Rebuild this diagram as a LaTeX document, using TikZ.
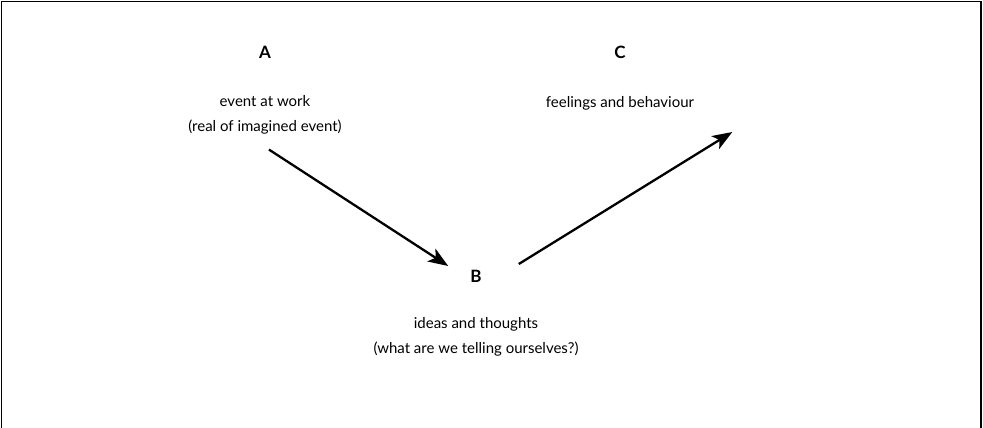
\documentclass[tikz,border=0pt]{standalone}
\usepackage{fontspec}
\setmainfont{Lato}
\usepackage{tikz}
\usetikzlibrary{arrows.meta,positioning,calc}

\begin{document}
\begin{tikzpicture}[
    x=1pt, y=-1pt,
    letter/.style={font=\fontsize{17}{19}\selectfont\bfseries, inner sep=0pt},
    txt/.style={font=\fontsize{15}{25}\selectfont, align=center, inner sep=0pt},
    arr/.style={-{Stealth[length=20pt,width=15pt,inset=5pt]}, line width=2.3pt},
    frame/.style={line width=1.4pt}
]
    \useasboundingbox (0,0) rectangle (983,428);

    % Frame, open at the bottom
    \draw[frame] (1.5,428) -- (1.5,1.5) -- (981,1.5) -- (981,428);

    % A: the event
    \node[letter] (A) at (265,52) {A};
    \node[txt] (evA) at (265,115) {event at work\\(real of imagined event)};

    % B: the thoughts
    \node[letter] (B) at (476,276) {B};
    \node[txt] (evB) at (476,337) {ideas and thoughts\\(what are we telling ourselves?)};

    % C: the outcome
    \node[letter] (C) at (620,52) {C};
    \node[txt] (evC) at (620,103) {feelings and behaviour};

    % Arrows
    \coordinate (a1s) at ($(evA.south)+(4,15)$);
    \coordinate (a1e) at ($(B.west)+(-22,-10)$);
    \coordinate (a2s) at ($(B.east)+(37,-12)$);
    \coordinate (a2e) at ($(evC.east)+(38,29)$);
    \draw[arr] (a1s) -- (a1e);
    \draw[arr] (a2s) -- (a2e);
\end{tikzpicture}
\end{document}
